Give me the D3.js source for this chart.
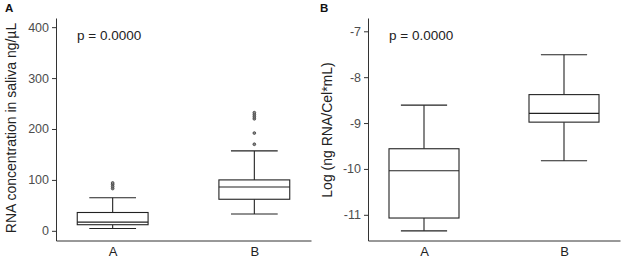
<!DOCTYPE html>
<html>
<head>
<meta charset="utf-8">
<script src="https://cdn.jsdelivr.net/npm/d3@7"></script>
<style>
  body { margin: 0; background: #fff; }
  svg text { font-family: "Liberation Sans", Arial, sans-serif; }
</style>
</head>
<body>
<script>
// groups on the x axis
var groups = ["A", "B"];

// panel A: RNA concentration, [min whisker, Q1, median, Q3, max whisker]
var concA = [4.5, 12, 17, 36, 65];
var concB = [33, 62, 86, 100, 157];
var concOutA = [83, 87, 91, 94];
var concOutB = [170, 192, 220, 224, 228, 232];
var concTicks = [0, 100, 200, 300, 400];

// panel B: log ng RNA / cell*mL
var logA = [-11.35, -11.07, -10.04, -9.56, -8.61];
var logB = [-9.82, -8.98, -8.79, -8.38, -7.51];
var logTicks = [-11, -10, -9, -8, -7];

var pText = "p = 0.0000";

var width = 624, height = 258;
var svg = d3.select("body").append("svg")
    .attr("width", width)
    .attr("height", height);

function drawPanel(opt) {
    var x = d3.scaleLinear().domain([0.6, 2.4]).range([opt.left, opt.right]);
    var y = d3.scaleLinear().domain(opt.domain).range([240.5, 18]);
    var g = svg.append("g");

    // y axis (plain hyphen for negatives, like the original)
    var yAxis = d3.axisLeft(y).tickValues(opt.ticks)
        .tickFormat(function(d) { return String(d); })
        .tickSize(4).tickPadding(3).tickSizeOuter(0);
    var ya = g.append("g").attr("transform", "translate(" + opt.left + ",0)").call(yAxis);
    ya.selectAll("text").attr("font-size", 12.5).attr("fill", "#4d4d4d")
        .attr("font-family", "Liberation Sans, Arial, sans-serif");
    ya.selectAll("line, path").attr("stroke", "#333");

    // x axis
    var xAxis = d3.axisBottom(x).tickValues([1, 2])
        .tickFormat(function(d) { return groups[d - 1]; })
        .tickSize(0).tickPadding(6).tickSizeOuter(0);
    var xa = g.append("g").attr("transform", "translate(0,240.5)").call(xAxis);
    xa.selectAll("text").attr("font-size", 13).attr("fill", "#222")
        .attr("font-family", "Liberation Sans, Arial, sans-serif");
    xa.selectAll("path").attr("stroke", "#333");

    // boxes
    var boxW = 0.5, capW = 0.33;
    opt.stats.forEach(function(s, i) {
        var cx = i + 1;
        var bg = g.append("g").attr("stroke", "#222").attr("stroke-width", 1.1).attr("fill", "none");
        // whiskers
        bg.append("line").attr("x1", x(cx)).attr("x2", x(cx)).attr("y1", y(s[0])).attr("y2", y(s[1]));
        bg.append("line").attr("x1", x(cx)).attr("x2", x(cx)).attr("y1", y(s[3])).attr("y2", y(s[4]));
        bg.append("line").attr("x1", x(cx - capW / 2)).attr("x2", x(cx + capW / 2)).attr("y1", y(s[0])).attr("y2", y(s[0]));
        bg.append("line").attr("x1", x(cx - capW / 2)).attr("x2", x(cx + capW / 2)).attr("y1", y(s[4])).attr("y2", y(s[4]));
        // box
        bg.append("rect")
            .attr("x", x(cx - boxW / 2)).attr("width", x(cx + boxW / 2) - x(cx - boxW / 2))
            .attr("y", y(s[3])).attr("height", y(s[1]) - y(s[3]))
            .attr("fill", "#fff");
        bg.append("line").attr("x1", x(cx - boxW / 2)).attr("x2", x(cx + boxW / 2)).attr("y1", y(s[2])).attr("y2", y(s[2]));

        // outliers
        if (opt.outliers) {
            g.selectAll(null).data(opt.outliers[i]).enter().append("circle")
                .attr("cx", x(cx)).attr("cy", function(d) { return y(d); })
                .attr("r", 1.4).attr("fill", "#888").attr("stroke", "#333").attr("stroke-width", 0.7);
        }
    });

    // p value
    g.append("text").attr("x", opt.pX).attr("y", 39.5)
        .attr("font-size", 13.5).attr("fill", "#222").text(pText);

    // y title
    g.append("text")
        .attr("transform", "translate(" + opt.titleX + "," + opt.titleY + ") rotate(-90)")
        .attr("text-anchor", "middle").attr("font-size", 14).attr("fill", "#222")
        .text(opt.title);

    // panel letter
    g.append("text").attr("x", opt.letterX).attr("y", 12)
        .attr("font-size", 11.5).attr("font-weight", "bold").attr("fill", "#111")
        .text(opt.letter);
}

drawPanel({
    left: 56, right: 311, domain: [-19, 418], ticks: concTicks,
    stats: [concA, concB], outliers: [concOutA, concOutB],
    pX: 77, title: "RNA concentration in saliva ng/\u00b5L", titleX: 15.5, titleY: 128,
    letter: "A", letterX: 5
});

drawPanel({
    left: 368, right: 620, domain: [-11.56, -6.71], ticks: logTicks,
    stats: [logA, logB],
    pX: 389, title: "Log (ng RNA/Cel*mL)", titleX: 332, titleY: 130,
    letter: "B", letterX: 320
});
</script>
</body>
</html>
